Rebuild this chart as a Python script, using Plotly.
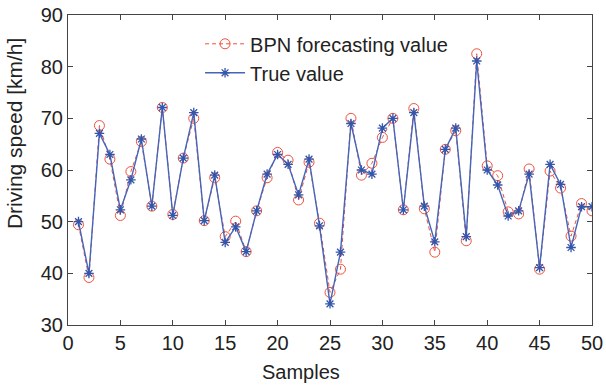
import plotly.graph_objects as go

samples = list(range(1, 51))
true_value = [50.0, 40.0, 67.1, 63.0, 52.3, 58.1, 66.0, 53.0, 72.1, 51.2,
              62.3, 71.1, 50.2, 59.0, 46.0, 49.0, 44.2, 52.1, 59.2, 63.0,
              61.1, 55.2, 62.1, 49.2, 34.1, 44.1, 69.0, 60.0, 59.2, 68.1,
              70.0, 52.3, 71.1, 53.0, 46.1, 64.0, 68.1, 47.1, 81.1, 60.0,
              57.1, 51.1, 52.1, 59.2, 41.1, 61.1, 57.2, 45.0, 52.9, 52.9]
bpn_value = [49.4, 39.2, 68.6, 62.1, 51.2, 59.7, 65.5, 53.0, 72.1, 51.4,
             62.3, 70.0, 50.2, 58.5, 47.1, 50.1, 44.2, 52.1, 58.5, 63.4,
             61.9, 54.2, 61.5, 49.7, 36.3, 40.8, 70.0, 59.0, 61.3, 66.3,
             70.0, 52.3, 71.9, 52.5, 44.1, 64.0, 67.6, 46.3, 82.5, 60.8,
             58.9, 51.9, 51.5, 60.2, 40.8, 59.8, 56.5, 47.2, 53.5, 52.1]
x_ticks = list(range(0, 51, 5))
y_ticks = list(range(30, 91, 10))

font = "Liberation Sans"
txt = "#222"
fig = go.Figure()
fig.add_trace(go.Scatter(
    x=samples, y=bpn_value, mode="lines+markers", name="BPN forecasting value",
    line=dict(color="#f0503c", width=1, dash="4px,3px"),
    marker=dict(symbol="circle-open", size=10, color="#f0503c", line=dict(width=1))))
fig.add_trace(go.Scatter(
    x=samples, y=true_value, mode="lines+markers", name="True value",
    line=dict(color="#4565bb", width=1.4),
    marker=dict(symbol="asterisk-open", size=8, color="#3355aa", line=dict(width=1.3, color="#3355aa"))))

axis_common = dict(showline=True, linecolor="#444", linewidth=1, mirror="ticks",
                   ticks="inside", ticklen=5, tickcolor="#444", showgrid=False,
                   zeroline=False, tickfont=dict(family=font, size=20, color=txt))
fig.update_xaxes(range=[0, 50], tickvals=x_ticks, ticklabeloverflow="allow", **axis_common)
fig.update_yaxes(range=[30, 90], tickvals=y_ticks, **axis_common)
fig.add_annotation(text="Samples", xref="paper", yref="paper", x=0.445, y=-0.152,
                   xanchor="center", yanchor="middle", showarrow=False,
                   font=dict(family=font, size=20, color=txt))
fig.add_annotation(text="Driving speed [km/h]", xref="paper", yref="paper", x=-0.103, y=0.616,
                   xanchor="center", yanchor="middle", showarrow=False, textangle=-90,
                   font=dict(family=font, size=21, color=txt))
fig.update_layout(
    width=606, height=385, margin=dict(l=68, r=3, t=15, b=60),
    paper_bgcolor="white", plot_bgcolor="white",
    legend=dict(x=0.252, y=0.97, xanchor="left", yanchor="top", bgcolor="rgba(0,0,0,0)",
                font=dict(family=font, size=20, color=txt), tracegroupgap=0, itemwidth=40),
    showlegend=True)
fig.write_html("out.html")
